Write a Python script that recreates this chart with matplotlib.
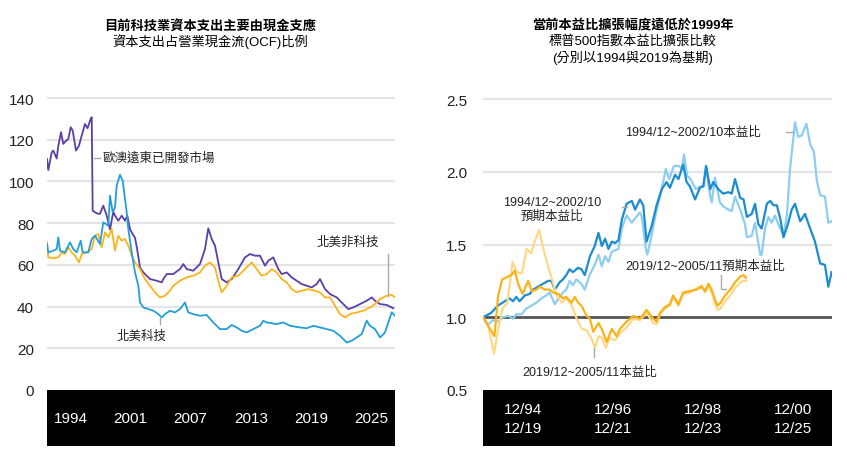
import matplotlib.pyplot as plt
from matplotlib.lines import Line2D

plt.rcParams['font.family'] = ['Liberation Sans', 'Noto Sans CJK TC']

# ---- left chart: capex as % of operating cash flow (x = years from series start)
intl_t = [0.0, 0.13, 0.47, 0.63, 0.97, 1.13, 1.4, 1.63, 1.8, 2.13, 2.37, 2.57, 2.9, 3.2, 3.47, 3.8,
          4.05, 4.37, 4.47, 4.57, 4.8, 5.1, 5.3, 5.63, 5.97, 6.3, 6.63, 6.8, 7.13, 7.47, 7.8, 8.03,
          8.3, 8.47, 8.8, 9.0, 9.3, 9.63, 10.3, 10.97, 11.47, 11.63, 11.97, 12.63, 13.3, 13.63, 13.97,
          14.63, 15.3, 15.8, 16.13, 16.47, 16.8, 17.13, 17.47, 17.97, 18.47, 19.13, 19.8, 20.3, 20.8,
          21.3, 21.8, 22.13, 22.63, 23.13, 23.47, 23.97, 24.47, 24.97, 25.47, 25.97, 26.47, 26.97,
          27.3, 27.8, 28.3, 28.97, 29.63, 30.13, 30.63, 31.3, 31.97, 32.47, 32.8, 33.3, 33.97, 34.63]
intl_v = [110.8, 105.5, 114.0, 114.8, 111.0, 117.0, 123.6, 118.0, 119.0, 120.4, 126.0, 124.4, 114.8,
          117.2, 122.0, 127.6, 125.5, 130.0, 130.8, 86.0, 85.2, 84.5, 84.5, 88.4, 83.6, 77.0, 85.4,
          83.6, 81.2, 83.6, 81.2, 83.6, 77.2, 75.6, 73.0, 68.0, 58.8, 56.4, 53.2, 52.4, 51.6, 53.2,
          55.6, 55.6, 58.0, 60.4, 58.0, 57.2, 60.4, 67.6, 77.5, 72.4, 69.2, 61.2, 53.2, 51.6, 53.2,
          58.0, 63.6, 65.2, 64.4, 64.4, 59.6, 62.0, 63.6, 58.0, 55.6, 56.4, 54.0, 52.4, 50.8, 50.0,
          49.2, 50.8, 53.2, 48.4, 46.0, 44.4, 41.2, 38.8, 39.6, 41.2, 42.8, 44.4, 42.8, 41.2, 40.8, 39.2]

nontech_t = [0.0, 0.13, 0.63, 1.13, 1.47, 1.8, 2.13, 2.47, 2.8, 3.2, 3.47, 3.97, 4.47, 4.8, 5.13,
             5.47, 5.8, 6.13, 6.47, 6.8, 7.13, 7.47, 7.8, 8.13, 8.47, 8.8, 9.3, 9.8, 10.3, 10.8,
             11.3, 11.8, 12.3, 12.63, 13.3, 13.97, 14.63, 15.3, 15.8, 16.3, 16.8, 17.13, 17.47,
             17.97, 18.47, 19.13, 19.8, 20.47, 20.97, 21.47, 21.97, 22.47, 22.97, 23.47, 23.97,
             24.47, 24.97, 25.47, 26.13, 26.8, 27.3, 27.8, 28.3, 28.8, 29.3, 29.8, 30.3, 30.97,
             31.63, 32.3, 32.8, 33.3, 33.97, 34.47, 34.8]
nontech_v = [70.8, 63.6, 63.2, 63.6, 66.0, 65.2, 68.4, 66.0, 64.4, 61.2, 65.2, 66.0, 67.6, 74.0,
             74.8, 68.4, 75.6, 73.2, 77.2, 66.8, 74.0, 71.6, 72.4, 69.2, 64.4, 61.2, 58.0, 53.2,
             50.0, 46.8, 44.4, 45.2, 47.6, 50.0, 52.4, 54.0, 54.8, 56.4, 59.6, 61.2, 58.8, 52.4,
             46.8, 50.0, 54.0, 54.8, 58.0, 61.2, 58.0, 54.8, 55.6, 58.0, 56.4, 53.2, 51.6, 48.4,
             46.8, 47.6, 48.4, 47.6, 46.8, 44.4, 44.4, 40.4, 36.4, 34.8, 36.4, 37.2, 38.0, 39.6,
             41.2, 43.6, 45.2, 45.6, 44.4]

tech_t = [0.0, 0.13, 0.63, 0.97, 1.13, 1.3, 1.8, 2.3, 2.63, 2.97, 3.37, 3.57, 4.13, 4.47, 4.8, 5.3,
          5.63, 6.13, 6.3, 6.57, 6.8, 6.97, 7.3, 7.57, 7.8, 7.97, 8.13, 8.47, 8.8, 9.13, 9.3, 9.63,
          10.13, 10.63, 11.13, 11.47, 11.8, 12.3, 12.8, 13.3, 13.8, 14.13, 14.63, 15.3, 15.97, 16.63,
          17.3, 17.97, 18.47, 18.97, 19.47, 19.97, 20.63, 21.3, 21.63, 21.97, 22.97, 23.63, 24.3,
          25.3, 25.97, 26.63, 27.3, 27.97, 28.63, 29.3, 29.97, 30.47, 30.97, 31.47, 31.97, 32.3,
          32.8, 33.3, 33.8, 34.13, 34.47, 34.8]
tech_v = [70.0, 66.0, 66.8, 67.6, 73.2, 66.8, 66.0, 70.8, 67.6, 66.0, 71.6, 66.0, 66.0, 72.4, 74.0,
          70.0, 80.4, 78.8, 93.2, 85.2, 87.6, 98.0, 103.2, 100.4, 91.6, 85.2, 77.2, 66.0, 56.4, 50.0,
          42.0, 39.6, 38.8, 38.0, 36.4, 34.8, 36.4, 38.0, 37.2, 38.8, 42.0, 37.2, 36.4, 35.6, 36.0,
          32.4, 29.2, 29.2, 31.2, 30.0, 28.4, 27.6, 29.2, 30.8, 33.2, 32.4, 31.6, 32.4, 30.8, 30.0,
          29.6, 30.8, 30.0, 29.2, 28.4, 26.0, 22.8, 23.6, 25.2, 26.8, 33.2, 30.8, 29.2, 25.2, 27.6,
          32.4, 37.2, 35.6]

left_yticks = [0, 20, 40, 60, 80, 100, 120, 140]
left_xlabels = ['1994', '2001', '2007', '2013', '2019', '2025']
left_xlabel_t = [2.4, 8.3, 14.3, 20.4, 26.4, 32.4]

# ---- right chart: S&P 500 P/E expansion (x = months from base date)
pe94_m = [0, 1.4, 2.7, 4, 5.4, 6.8, 8.1, 9, 10.4, 11.7, 13.1, 14.4, 15.8, 17.1, 18, 19.4, 20.7, 21.6,
          22.5, 23.4, 24.3, 25.2, 26.6, 27.5, 28.8, 30.2, 31.2, 32.1, 33, 33.9, 34.8, 36.6, 37.5,
          38.8, 40.2, 41.1, 42.4, 42.9, 44, 44.4, 45.3, 46.6, 48, 49.4, 50.3, 51.6, 53, 53.7, 54.3,
          55.2, 56.1, 57.5, 58.8, 59.7, 60.2, 61.4, 61.8, 62.7, 64, 65, 66.3, 67.2, 68.1, 69.5, 70.8,
          71.3, 72.6, 73.5, 74.9, 75.3, 76.2, 77.1, 78, 78.9, 79.8, 81.2, 82.1, 83, 84.3, 85.2, 86.1,
          87.4, 88.4, 89.4, 90.2, 91.1, 92.4, 93.3, 94.2]
pe94_v = [1.00, 0.95, 0.98, 0.97, 1.00, 1.01, 0.99, 1.02, 1.02, 1.06, 1.08, 1.10, 1.13, 1.15, 1.17,
          1.09, 1.14, 1.17, 1.19, 1.25, 1.22, 1.26, 1.23, 1.19, 1.29, 1.36, 1.43, 1.35, 1.42, 1.38,
          1.45, 1.47, 1.61, 1.70, 1.65, 1.68, 1.72, 1.69, 1.47, 1.43, 1.53, 1.70, 1.85, 2.02, 1.95,
          2.04, 2.04, 2.02, 2.12, 1.97, 1.95, 1.88, 1.90, 1.90, 2.04, 1.83, 1.79, 1.96, 1.79, 1.76,
          1.74, 1.73, 1.83, 1.74, 1.64, 1.55, 1.56, 1.65, 1.43, 1.43, 1.61, 1.69, 1.65, 1.70, 1.64,
          1.56, 1.70, 2.03, 2.34, 2.24, 2.25, 2.33, 2.19, 2.14, 1.94, 1.84, 1.83, 1.65, 1.66]

fpe94_m = [0, 2.2, 4, 5.9, 7.2, 8.1, 9, 9.9, 11.3, 12.6, 13.5, 14.9, 16.2, 17.6, 18.5, 19.4, 20.7,
           21.6, 22.5, 23.4, 24.3, 25.7, 26.6, 27.5, 28.9, 30.2, 31.2, 32.1, 33, 33.9, 34.8, 35.7,
           36.6, 37.5, 38.8, 40.2, 41.1, 42.4, 43.3, 44.2, 45.6, 46.9, 48.3, 49.6, 50.5, 51.9, 52.8,
           54.1, 55, 55.9, 57.3, 58.6, 59.5, 60.3, 61.4, 62.2, 63.6, 64.9, 66.3, 67.2, 68.1, 69.5,
           70.4, 71.3, 72.6, 73.5, 74.4, 75.3, 76.7, 77.6, 78.5, 79.4, 80.3, 81.2, 82.5, 83.4, 84.3,
           85.7, 87.0, 88.4, 89.7, 91.1, 92.4, 93.3, 94.2]
fpe94_v = [1.00, 1.03, 1.08, 1.11, 1.13, 1.11, 1.14, 1.11, 1.15, 1.16, 1.19, 1.21, 1.23, 1.25, 1.25,
           1.19, 1.24, 1.26, 1.29, 1.33, 1.31, 1.34, 1.33, 1.29, 1.42, 1.49, 1.58, 1.49, 1.54, 1.47,
           1.52, 1.51, 1.53, 1.67, 1.78, 1.80, 1.74, 1.81, 1.77, 1.52, 1.63, 1.77, 1.88, 1.93, 1.89,
           1.98, 1.95, 2.05, 1.93, 1.90, 1.81, 1.89, 1.90, 2.04, 1.88, 1.93, 1.88, 1.85, 1.86, 1.85,
           1.95, 1.82, 1.81, 1.69, 1.71, 1.78, 1.64, 1.61, 1.78, 1.80, 1.77, 1.77, 1.68, 1.55, 1.65,
           1.74, 1.78, 1.66, 1.71, 1.61, 1.52, 1.37, 1.36, 1.21, 1.31]

pe19_m = [0, 1.4, 3, 4.1, 5.3, 6.6, 8, 9.1, 10.5, 11.8, 13, 14.1, 15.2, 16.3, 17.6, 19, 19.9, 21.3,
          22.6, 24, 25.3, 26.7, 28, 29.4, 30.3, 31.2, 32.1, 33.2, 34.3, 35.7, 37, 38.8, 40.6, 42.4,
          44.2, 46, 46.9, 47.8, 49.2, 50.5, 51.4, 52.8, 54.1, 55.9, 57.7, 59.1, 60, 60.9, 61.8, 62.7,
          63.4, 64.2, 65.4, 66.8, 68.1, 69.5, 70.4, 71.1]
pe19_v = [1.00, 0.94, 0.75, 0.92, 1.06, 1.10, 1.38, 1.31, 1.30, 1.47, 1.44, 1.53, 1.60, 1.47, 1.35,
          1.23, 1.15, 1.10, 1.13, 1.08, 0.99, 0.92, 0.91, 0.85, 0.79, 0.87, 0.86, 0.79, 0.86, 0.84,
          0.89, 0.93, 0.99, 0.98, 1.03, 0.96, 0.95, 1.02, 1.06, 1.08, 1.14, 1.08, 1.16, 1.17, 1.20,
          1.22, 1.17, 1.21, 1.17, 1.09, 1.05, 1.06, 1.11, 1.15, 1.20, 1.24, 1.25, 1.25]

fpe19_m = [0, 1.4, 3.1, 4.1, 5.2, 6.8, 7.7, 8.6, 9.5, 10.7, 12.2, 13.2, 14.4, 15.4, 16.7, 18, 19,
           20.4, 21.6, 22.5, 23.9, 24.8, 25.7, 26.6, 28, 28.9, 29.8, 31.2, 32.1, 33.4, 34.8, 36.1,
           37, 38.8, 40.6, 42.4, 44.2, 46, 46.9, 47.8, 49.2, 50.5, 51.4, 52.8, 54.1, 55.9, 57.7,
           59.1, 60, 60.9, 61.8, 62.7, 63.4, 64.2, 65.4, 66.8, 68.1, 69.5, 70.4, 71.1]
fpe19_v = [1.00, 0.94, 0.87, 1.15, 1.26, 1.28, 1.29, 1.32, 1.23, 1.16, 1.25, 1.18, 1.19, 1.21, 1.19,
           1.19, 1.17, 1.16, 1.13, 1.14, 1.10, 1.14, 1.10, 1.08, 1.01, 0.99, 0.90, 0.96, 0.92, 0.83,
           0.92, 0.87, 0.92, 0.97, 1.01, 0.99, 1.05, 0.99, 0.97, 1.03, 1.07, 1.09, 1.15, 1.09, 1.17,
           1.18, 1.19, 1.21, 1.18, 1.23, 1.19, 1.12, 1.08, 1.10, 1.15, 1.19, 1.24, 1.28, 1.29, 1.27]

right_yticks = [0.5, 1.0, 1.5, 2.0, 2.5]
right_xlabels = [('12/94', '12/19'), ('12/96', '12/21'), ('12/98', '12/23'), ('12/00', '12/25')]
right_xlabel_m = [10.8, 35.1, 59.5, 83.8]

W, H = 847, 460


def rect(x, y, w, h):
    return [x / W, 1 - (y + h) / H, w / W, h / H]


def ftext(x, y, s, **kw):
    fig.text(x / W, 1 - y / H, s, **kw)


def fline(xs, ys):
    fig.add_artist(Line2D([x / W for x in xs], [1 - y / H for y in ys],
                          transform=fig.transFigure, color='#aaaaaa', lw=1))


fig = plt.figure(figsize=(8.47, 4.6), dpi=100)

# left chart
ax1 = fig.add_axes(rect(47, 88, 348, 303))
for v in left_yticks[1:]:
    ax1.axhline(v, color='#e4e4e4', lw=1.5, zorder=0)
ax1.plot(intl_t, intl_v, color='#5a3fa6', lw=1.3)
ax1.plot(nontech_t, nontech_v, color='#fbb41a', lw=1.3)
ax1.plot(tech_t, tech_v, color='#229ed9', lw=1.3)
ax1.set_xlim(0, 34.8)
ax1.set_ylim(0, 145.3)
ax1.set_yticks(left_yticks)
ax1.set_yticklabels([str(v) for v in left_yticks], fontsize=11, color='#222222')
ax1.tick_params(axis='y', length=0, pad=9.4)
ax1.set_xticks([])
for s in ax1.spines.values():
    s.set_visible(False)

box1 = fig.add_axes(rect(47, 391, 348, 56), facecolor='black')
box1.set_xlim(0, 34.8)
box1.set_ylim(0, 1)
box1.set_xticks([])
box1.set_yticks([])
for s in box1.spines.values():
    s.set_visible(False)
for t, lab in zip(left_xlabel_t, left_xlabels):
    box1.text(t, 0.5, lab, color='white', fontsize=11, ha='center', va='center')

ftext(210, 26, '目前科技業資本支出主要由現金支應', fontsize=9.5, fontweight='bold', ha='center', va='center')
ftext(210, 42, '資本支出占營業現金流(OCF)比例', fontsize=9.5, ha='center', va='center')

ftext(102, 159, '歐澳遠東已開發市場', fontsize=9, ha='left', va='center', color='#222222')
fline([93.5, 99.5], [159, 159])
ftext(348, 243, '北美非科技', fontsize=9, ha='center', va='center', color='#222222')
fline([387.7, 387.7], [255, 297])
ftext(142, 337, '北美科技', fontsize=9, ha='center', va='center', color='#222222')
fline([160, 160], [319, 325])

# right chart
ax2 = fig.add_axes(rect(483, 88, 349, 303))
for v in right_yticks[2:]:
    ax2.axhline(v, color='#e4e4e4', lw=1.5, zorder=0)
ax2.axhline(1.0, color='#555555', lw=2, zorder=1)
ax2.plot(pe94_m, pe94_v, color='#8dcdf0', lw=1.6)
ax2.plot(fpe94_m, fpe94_v, color='#1a8ccf', lw=1.6)
ax2.plot(pe19_m, pe19_v, color='#fdd889', lw=1.6)
ax2.plot(fpe19_m, fpe19_v, color='#f9b218', lw=1.6)
ax2.set_xlim(0, 94.3)
ax2.set_ylim(0.5, 2.583)
ax2.set_yticks(right_yticks)
ax2.set_yticklabels([f'{v:.1f}' for v in right_yticks], fontsize=11, color='#222222')
ax2.tick_params(axis='y', length=0, pad=11.5)
ax2.set_xticks([])
for s in ax2.spines.values():
    s.set_visible(False)

box2 = fig.add_axes(rect(483, 391, 349, 56), facecolor='black')
box2.set_xlim(0, 94.3)
box2.set_ylim(0, 1)
box2.set_xticks([])
box2.set_yticks([])
for s in box2.spines.values():
    s.set_visible(False)
for m, (a, b) in zip(right_xlabel_m, right_xlabels):
    box2.text(m, 0.66, a, color='white', fontsize=11, ha='center', va='center')
    box2.text(m, 0.316, b, color='white', fontsize=11, ha='center', va='center')

ftext(633, 26, '當前本益比擴張幅度遠低於1999年', fontsize=9.5, fontweight='bold', ha='center', va='center')
ftext(633, 42, '標普500指數本益比擴張比較', fontsize=9.5, ha='center', va='center')
ftext(633, 58, '(分別以1994與2019為基期)', fontsize=9.5, ha='center', va='center')

ftext(693, 133, '1994/12~2002/10本益比', fontsize=9, ha='center', va='center', color='#222222')
fline([786, 793], [133, 133])
ftext(552, 203, '1994/12~2002/10', fontsize=9, ha='center', va='center', color='#222222')
ftext(552, 217, '預期本益比', fontsize=9, ha='center', va='center', color='#222222')
fline([621.5, 627], [208, 208])
ftext(705, 267, '2019/12~2005/11預期本益比', fontsize=9, ha='center', va='center', color='#222222')
fline([720.5, 720.5, 726], [276, 290, 290])
ftext(590, 373, '2019/12~2005/11本益比', fontsize=9, ha='center', va='center', color='#222222')
fline([594, 594], [349, 358])

fig.savefig('out.png', dpi=100, facecolor='white')
